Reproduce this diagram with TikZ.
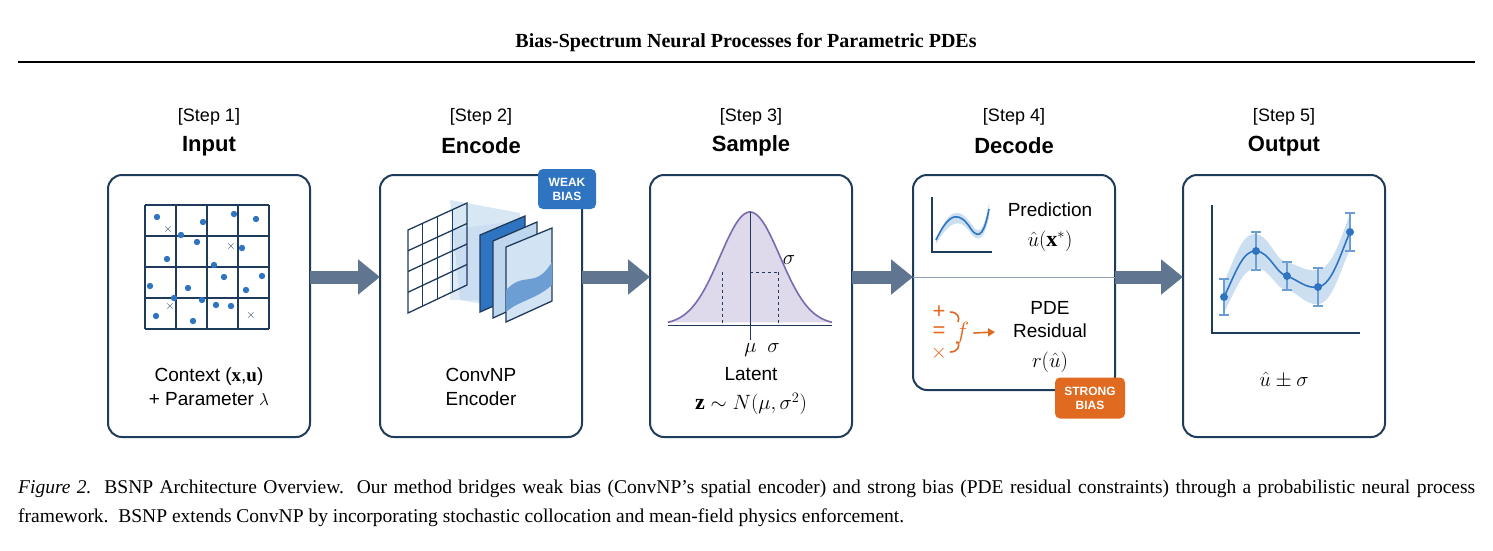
\documentclass[tikz,border=0pt]{standalone}
\usepackage{fontspec}
\setsansfont{Liberation Sans}
\setmainfont{Liberation Serif}
\usetikzlibrary{arrows.meta,positioning,calc}
\definecolor{navy}{HTML}{1F3B5C}
\definecolor{dotblue}{HTML}{2F74C0}
\definecolor{flowgray}{HTML}{5F7590}
\definecolor{lightblue}{HTML}{BFD7EE}
\definecolor{biasorange}{HTML}{E06A1F}
\definecolor{gausspurple}{HTML}{7A6BB0}
\begin{document}
\begin{tikzpicture}[x=1pt,y=-1pt,
    stage box/.style={draw=navy,line width=2pt,rounded corners=14pt,fill=white},
    step label/.style={font=\sffamily\fontsize{18}{20}\selectfont},
    stage name/.style={font=\sffamily\bfseries\fontsize{22}{24}\selectfont},
    body text/.style={font=\sffamily\fontsize{19}{24}\selectfont,align=center},
    math text/.style={font=\fontsize{22}{22}\selectfont},
    flow/.style={-{Triangle[length=22pt,width=34pt]},line width=13pt,flowgray},
    badge/.style={rounded corners=5pt,text=white,font=\sffamily\bfseries\fontsize{12}{14}\selectfont,align=center,inner sep=5pt},
    caption/.style={font=\fontsize{19.5}{29}\selectfont,anchor=north west,inner sep=0pt,text width=1457pt,align=justify}]
\useasboundingbox (0,0) rectangle (1493,550);
% header
\node[font=\bfseries\fontsize{20}{22}\selectfont] (title) at (746,43) {Bias-Spectrum Neural Processes for Parametric PDEs};
\draw[line width=2pt] (18,62) -- (1475,62);
% boxes
\foreach \i/\x/\nm in {1/108/Input,2/380/Encode,3/650/Sample,5/1183/Output}{
  \draw[stage box] (\x,175) rectangle ++(202,262);
  \node[step label] (s\i) at (\x+101,117) {[Step \i]};
  \node[stage name] (n\i) at (\x+101,146) {\nm};
}
\draw[stage box] (913,175) rectangle (1115,390);
\node[step label] (s4) at (1014,117) {[Step 4]};
\node[stage name] (n4) at (1014,146) {Decode};
\coordinate (b1) at (310,277); \coordinate (b2a) at (380,277);
\coordinate (b2) at (582,277); \coordinate (b3a) at (650,277);
\coordinate (b3) at (852,277); \coordinate (b4a) at (913,277);
\coordinate (b4) at (1115,277); \coordinate (b5a) at (1183,277);
\draw[flow] (b1) -- (b2a);
\draw[flow] (b2) -- (b3a);
\draw[flow] (b3) -- (b4a);
\draw[flow] (b4) -- (b5a);
% step 1
\foreach \k in {0,...,4}{
  \draw[navy,line width=1.3pt] (145+31*\k,205) -- (145+31*\k,329);
  \draw[navy,line width=1.3pt] (145,205+31*\k) -- (269,205+31*\k);}
\foreach \p in {(157,217),(203,222),(234,214),(256,219),(181,235),(167,259),(197,242),(242,248),(214,265),(262,276),(150,286),(188,288),(224,277),(246,290),(202,300),(231,306),(156,316),(193,321),(216,305),(174,298)}
  \fill[dotblue] \p circle (3.2pt);
\foreach \p in {(168,229),(231,246),(170,306),(251,315)}
  \node[navy,font=\sffamily\fontsize{13}{13}\selectfont] at \p {$\times$};
\node[body text] (ctx) at (209,387) {Context ($\mathbf{x}$,$\mathbf{u}$)\\+ Parameter $\lambda$};
% step 2
\fill[lightblue,opacity=.5] (450,230) -- (508,222) -- (508,300) -- (450,300) -- cycle;
\fill[lightblue,opacity=.6] (450,200) -- (520,213) -- (520,310) -- (460,300) -- cycle;
\begin{scope}[navy,line width=1.3pt]
\draw (408,230) -- (467,203) -- (467,285) -- (408,313) -- cycle;
\foreach \t in {0.25,0.5,0.75}{
  \draw ($(408,230)!\t!(467,203)$) -- ($(408,313)!\t!(467,285)$);
  \draw ($(408,230)!\t!(408,313)$) -- ($(467,203)!\t!(467,285)$);}
\end{scope}
\filldraw[fill=dotblue,draw=navy,line width=1.3pt] (480,235) -- (525,216) -- (525,292) -- (480,312) -- cycle;
\filldraw[fill=lightblue,draw=navy,line width=1.3pt] (493,241) -- (537,222) -- (537,298) -- (493,318) -- cycle;
\filldraw[fill=lightblue!70,draw=navy,line width=1.3pt] (506,247) -- (552,228) -- (552,301) -- (506,322) -- cycle;
\fill[dotblue!70] (506,290) .. controls (525,270) and (535,290) .. (552,262) -- (552,285) .. controls (535,300) and (520,300) .. (506,312) -- cycle;
\node[body text] (enc) at (481,387) {ConvNP\\Encoder};
\node[badge,fill=dotblue,minimum width=58pt,minimum height=40pt] (weak) at (567,189) {WEAK\\BIAS};
% step 3
\fill[gausspurple!25] plot[domain=668:832,samples=60] (\x,{325-113*exp(-((\x-750)/30)^2/2)}) -- cycle;
\draw[gausspurple,line width=1.6pt] plot[domain=668:832,samples=80] (\x,{325-113*exp(-((\x-750)/30)^2/2)});
\draw[navy,line width=1pt] (668,325) -- (832,325);
\draw[navy,line width=1pt] (750,212) -- (750,340);
\draw[navy,dashed] (722,272) -- (722,325) (778,272) -- (778,325) (750,272) -- (778,272);
\node[math text] (sig) at (789,260) {$\sigma$};
\node[math text] (musig) at (762,350) {$\mu\ \ \sigma$};
\node[body text] (lat) at (751,374) {Latent};
\node[math text] (zdist) at (751,404) {$\mathbf{z}\sim N(\mu,\sigma^2)$};
% step 4
\draw[flowgray!70,line width=1pt] (913,277) -- (1115,277);
\draw[navy,line width=1.2pt] (932,197) -- (932,252) -- (992,252);
\fill[lightblue,opacity=.8] (936,240) .. controls (950,205) and (960,208) .. (972,225) .. controls (980,238) and (985,225) .. (989,203) -- (989,217) .. controls (985,238) and (978,245) .. (970,232) .. controls (960,218) and (950,220) .. (936,244) -- cycle;
\draw[dotblue,line width=1.6pt] (936,240) .. controls (950,210) and (960,212) .. (971,229) .. controls (980,242) and (985,230) .. (989,209);
\node[body text] (pred) at (1050,210) {Prediction};
\node[math text] (uhat) at (1050,241) {$\hat{u}(\mathbf{x}^*)$};
\begin{scope}[biasorange,line width=1.6pt]
\node[biasorange,font=\sffamily\fontsize{22}{22}\selectfont] (plus) at (939,312) {+};
\node[biasorange,font=\sffamily\fontsize{22}{22}\selectfont] (eq) at (939,332) {=};
\node[biasorange,font=\sffamily\fontsize{20}{20}\selectfont] (times) at (939,353) {$\times$};
\draw (950,312) .. controls (958,312) and (960,318) .. (958,322);
\draw (950,352) .. controls (958,352) and (960,346) .. (958,342);
\node[biasorange,font=\fontsize{24}{24}\selectfont] (fsym) at (962,333) {$f$};
\coordinate (ftip) at (995,332);
\draw[-{Triangle[length=7pt,width=8pt]}] (fsym.east) -- (ftip);
\end{scope}
\node[body text,font=\sffamily\fontsize{19}{23}\selectfont] (pde) at (1050,320) {PDE\\Residual};
\node[math text] (resid) at (1050,362) {$r(\hat{u})$};
\node[badge,fill=biasorange,minimum width=70pt,minimum height=41pt] (strong) at (1090,398) {STRONG\\BIAS};
% step 5
\draw[navy,line width=1.2pt] (1212,205) -- (1212,333) -- (1360,333);
\fill[lightblue,opacity=.8] (1224,282) .. controls (1236,255) and (1243,232) .. (1256,234) .. controls (1270,236) and (1276,262) .. (1287,262) .. controls (1298,265) and (1306,272) .. (1318,270) .. controls (1332,268) and (1340,240) .. (1350,214) -- (1350,250) .. controls (1340,270) and (1332,304) .. (1318,304) .. controls (1306,306) and (1298,292) .. (1287,290) .. controls (1276,290) and (1270,268) .. (1256,268) .. controls (1243,268) and (1236,290) .. (1224,312) -- cycle;
\draw[dotblue,line width=1.6pt] (1224,297) .. controls (1236,272) and (1243,250) .. (1256,251) .. controls (1270,252) and (1276,274) .. (1287,276) .. controls (1298,280) and (1306,289) .. (1318,287) .. controls (1332,285) and (1340,255) .. (1350,232);
\foreach \xx/\yy/\e in {1224/297/18,1256/251/19,1287/276/14,1318/287/19,1350/232/19}{
  \draw[dotblue!70,line width=1.3pt] (\xx,\yy-\e) -- (\xx,\yy+\e) (\xx-5,\yy-\e) -- (\xx+5,\yy-\e) (\xx-5,\yy+\e) -- (\xx+5,\yy+\e);
  \fill[dotblue] (\xx,\yy) circle (4pt);}
\node[math text] (outlbl) at (1284,380) {$\hat{u}\pm\sigma$};
% caption
\node[caption] (cap) at (18,480) {\textit{Figure 2.}\ \ BSNP Architecture Overview.\ \ Our method bridges weak bias (ConvNP's spatial encoder) and strong bias (PDE residual constraints) through a probabilistic neural process framework.\ \ BSNP extends ConvNP by incorporating stochastic collocation and mean-field physics enforcement.};
\end{tikzpicture}
\end{document}
